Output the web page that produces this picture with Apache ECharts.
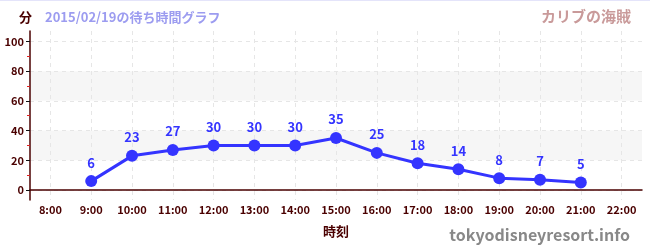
<!DOCTYPE html>
<html><head><meta charset="utf-8">
<script src="https://cdn.jsdelivr.net/npm/echarts@6/dist/echarts.min.js"></script>
<style>html,body{margin:0;padding:0;background:#fff}#c{width:650px;height:250px;border-top:1px solid #e4e4fa;box-sizing:border-box}</style>
</head><body><div id="c"></div>
<script>
const categories = ['8:00','9:00','10:00','11:00','12:00','13:00','14:00','15:00','16:00','17:00','18:00','19:00','20:00','21:00','22:00'];
const waitTimes = [null, 6, 23, 27, 30, 30, 30, 35, 25, 18, 14, 8, 7, 5, null];
const yTicks = [0, 20, 40, 60, 80, 100];
const yMinorTicks = [10, 30, 50, 70, 90];
const titleText = '2015/02/19の待ち時間グラフ';
const attractionName = 'カリブの海賊';
const siteName = 'tokyodisneyresort.info';
const unitName = '分';
const axisRed = '#4a0000';
const FONT = '"Noto Sans CJK JP", "Noto Sans", sans-serif';

const chart = echarts.init(document.getElementById('c'));
chart.setOption({
  animation: false,
  textStyle: {fontFamily: FONT},
  title: [
    {text: unitName, left: 14, top: 5, textStyle: {color: axisRed, fontSize: 13, fontWeight: 'bold', fontFamily: FONT}},
    {text: titleText, left: 40, top: 5, textStyle: {color: '#9c9cf0', fontSize: 13, fontWeight: 'bold', fontFamily: FONT}},
    {text: attractionName, right: 14, top: 3, textStyle: {color: '#c99a9a', fontSize: 15, fontWeight: 'bold', fontFamily: FONT}},
    {text: siteName, right: 15, top: 221, textStyle: {color: '#888', fontSize: 16, fontWeight: 'bold', fontFamily: FONT}}
  ],
  grid: {left: 30, right: 8, top: 30, bottom: 50, containLabel: false},
  xAxis: {
    type: 'category', data: categories, boundaryGap: true,
    name: '時刻', nameLocation: 'middle', nameGap: 25,
    nameTextStyle: {color: axisRed, fontWeight: 'bold', fontSize: 13, fontFamily: FONT},
    axisLine: {lineStyle: {color: axisRed, width: 1.5}},
    axisTick: {alignWithLabel: true, length: 4, lineStyle: {color: '#333'}},
    axisLabel: {color: axisRed, fontSize: 11, fontWeight: 'bold', margin: 4, interval: 0, fontFamily: FONT},
    splitLine: {show: true, alignWithLabel: true, lineStyle: {color: '#e6e6e6', type: [4, 4]}}
  },
  yAxis: [
    {
      type: 'value', min: -6.7, max: 107,
      axisLine: {show: true, lineStyle: {color: axisRed, width: 1.5}},
      axisTick: {show: true, length: 4, inside: false, customValues: yTicks, lineStyle: {color: '#111'}},
      axisLabel: {customValues: yTicks, color: axisRed, fontSize: 11, fontWeight: 'bold', margin: 6, fontFamily: FONT},
      splitLine: {show: true, lineStyle: {color: '#e6e6e6', type: [4, 4]}},
      splitArea: {show: true, areaStyle: {color: ['rgba(0,0,0,0)', 'rgba(0,0,0,0.035)']}}
    },
    {
      type: 'value', min: -6.7, max: 107, position: 'left',
      axisLine: {show: false},
      axisTick: {show: true, length: 3, customValues: yMinorTicks, lineStyle: {color: '#e02020'}},
      axisLabel: {show: false, customValues: yMinorTicks},
      splitLine: {show: false}
    }
  ],
  series: [{
    type: 'line', data: waitTimes, yAxisIndex: 0,
    symbol: 'circle', symbolSize: 12,
    lineStyle: {color: '#3434ff', width: 3},
    itemStyle: {color: '#3434ff'},
    label: {show: true, position: 'top', distance: 6, color: '#3434ff', fontSize: 13, fontWeight: 'bold', fontFamily: FONT}
  }]
});
</script></body></html>
